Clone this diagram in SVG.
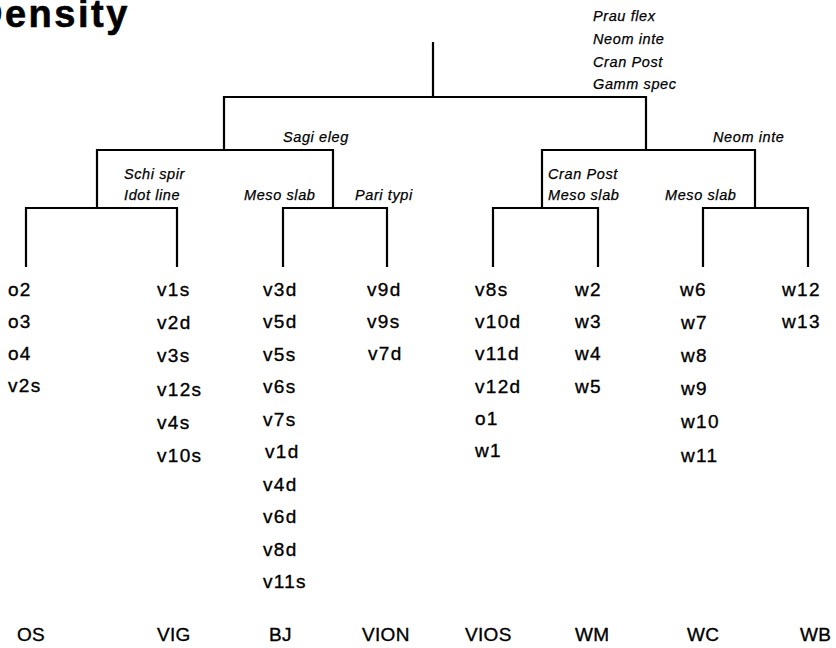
<svg xmlns="http://www.w3.org/2000/svg" width="836" height="648" viewBox="0 0 836 648">
<style>
.title{font-family:"Liberation Sans",Arial,sans-serif;font-weight:bold;font-size:38px;letter-spacing:2.5px;fill:#000;stroke:#000;stroke-width:0.6}
.sp{font-family:"Liberation Sans",Arial,sans-serif;font-style:italic;font-size:14.5px;letter-spacing:0.6px;fill:#000;stroke:#000;stroke-width:0.25}
.lf{font-family:"Liberation Sans",Arial,sans-serif;font-size:19px;letter-spacing:1.3px;fill:#000;stroke:#000;stroke-width:0.35}
.site{font-family:"Liberation Sans",Arial,sans-serif;font-size:19px;letter-spacing:0.3px;fill:#000;stroke:#000;stroke-width:0.35}
.ln{fill:none;stroke:#000;stroke-width:2.2;stroke-linecap:square}
</style>
<rect width="836" height="648" fill="#fff"/>
<text class="title" x="-25" y="27">Density</text>

<g id="connectors" class="ln">
<path d="M433 43V97M224 97H646M224 97V150M646 97V150"/>
<path d="M97 150H333M97 150V208M333 150V208"/>
<path d="M542 150H755M542 150V208M755 150V208"/>
<path d="M26 208H177M26 208V266M177 208V266"/>
<path d="M283 208H387M283 208V266M387 208V266"/>
<path d="M493 208H598M493 208V266M598 208V266"/>
<path d="M703 208H808M703 208V266M808 208V266"/>
</g>

<g id="node-root">
<text class="sp" x="593" y="21">Prau flex</text>
<text class="sp" x="593" y="44">Neom inte</text>
<text class="sp" x="593" y="66.5">Cran Post</text>
<text class="sp" x="593" y="89">Gamm spec</text>
</g>
<g id="node-left"><text class="sp" x="283" y="142">Sagi eleg</text></g>
<g id="node-right"><text class="sp" x="713" y="142">Neom inte</text></g>
<g id="node-os-vig"><text class="sp" x="124" y="179">Schi spir</text><text class="sp" x="124" y="200">Idot line</text></g>
<g id="node-bj-vion"><text class="sp" x="244" y="200">Meso slab</text></g>
<g id="node-pari"><text class="sp" x="355" y="200">Pari typi</text></g>
<g id="node-vios-wm"><text class="sp" x="548" y="179">Cran Post</text><text class="sp" x="548" y="200">Meso slab</text></g>
<g id="node-wc-wb"><text class="sp" x="665" y="200">Meso slab</text></g>

<g id="leaf-os">
<text class="lf" x="8" y="296">o2</text>
<text class="lf" x="8" y="328">o3</text>
<text class="lf" x="8" y="360">o4</text>
<text class="lf" x="8" y="392">v2s</text>
<text class="site" x="17" y="641">OS</text>
</g>
<g id="leaf-vig">
<text class="lf" x="157" y="296">v1s</text>
<text class="lf" x="157" y="329">v2d</text>
<text class="lf" x="157" y="362">v3s</text>
<text class="lf" x="157" y="396">v12s</text>
<text class="lf" x="157" y="429">v4s</text>
<text class="lf" x="157" y="462">v10s</text>
<text class="site" x="157" y="641">VIG</text>
</g>
<g id="leaf-bj">
<text class="lf" x="263" y="296">v3d</text>
<text class="lf" x="263" y="328">v5d</text>
<text class="lf" x="263" y="361">v5s</text>
<text class="lf" x="263" y="393">v6s</text>
<text class="lf" x="263" y="426">v7s</text>
<text class="lf" x="265" y="458">v1d</text>
<text class="lf" x="263" y="491">v4d</text>
<text class="lf" x="263" y="523">v6d</text>
<text class="lf" x="263" y="556">v8d</text>
<text class="lf" x="263" y="588">v11s</text>
<text class="site" x="269" y="641">BJ</text>
</g>
<g id="leaf-vion">
<text class="lf" x="367" y="296">v9d</text>
<text class="lf" x="367" y="328">v9s</text>
<text class="lf" x="368" y="360">v7d</text>
<text class="site" x="362" y="641">VION</text>
</g>
<g id="leaf-vios">
<text class="lf" x="475" y="296">v8s</text>
<text class="lf" x="475" y="328">v10d</text>
<text class="lf" x="475" y="360">v11d</text>
<text class="lf" x="475" y="393">v12d</text>
<text class="lf" x="475" y="425">o1</text>
<text class="lf" x="475" y="457">w1</text>
<text class="site" x="465" y="641">VIOS</text>
</g>
<g id="leaf-wm">
<text class="lf" x="575" y="296">w2</text>
<text class="lf" x="575" y="328">w3</text>
<text class="lf" x="575" y="360">w4</text>
<text class="lf" x="575" y="393">w5</text>
<text class="site" x="575" y="641">WM</text>
</g>
<g id="leaf-wc">
<text class="lf" x="680" y="296">w6</text>
<text class="lf" x="681" y="329">w7</text>
<text class="lf" x="681" y="362">w8</text>
<text class="lf" x="681" y="395">w9</text>
<text class="lf" x="681" y="428">w10</text>
<text class="lf" x="681" y="462">w11</text>
<text class="site" x="687" y="641">WC</text>
</g>
<g id="leaf-wb">
<text class="lf" x="782" y="296">w12</text>
<text class="lf" x="782" y="328">w13</text>
<text class="site" x="800" y="641">WB</text>
</g>
</svg>
